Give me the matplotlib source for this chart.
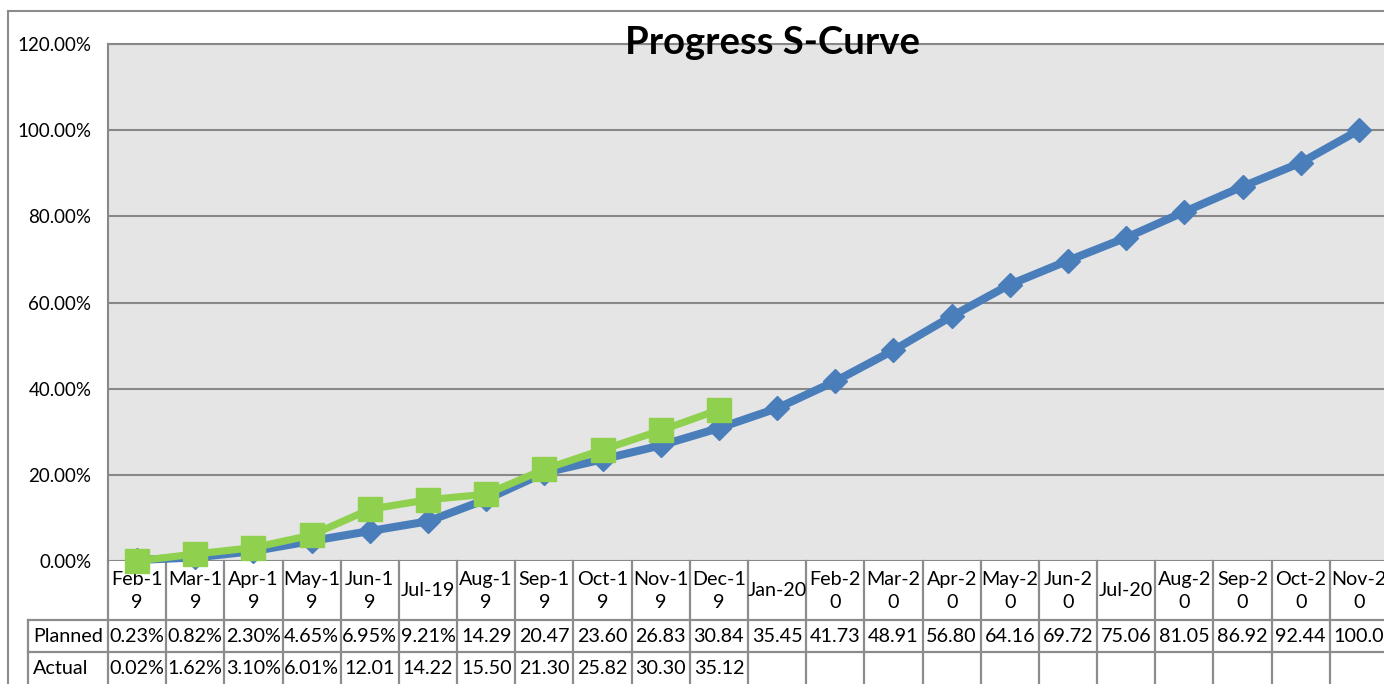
import matplotlib
matplotlib.use("Agg")
import matplotlib.pyplot as plt
from matplotlib.lines import Line2D
from matplotlib.ticker import FuncFormatter

plt.rcParams['font.family'] = ['Lato', 'DejaVu Sans']

# ---------------- data ----------------
header_labels = ["Feb-1\n9", "Mar-1\n9", "Apr-1\n9", "May-1\n9", "Jun-1\n9", "Jul-19",
                 "Aug-1\n9", "Sep-1\n9", "Oct-1\n9", "Nov-1\n9", "Dec-1\n9", "Jan-20",
                 "Feb-2\n0", "Mar-2\n0", "Apr-2\n0", "May-2\n0", "Jun-2\n0", "Jul-20",
                 "Aug-2\n0", "Sep-2\n0", "Oct-2\n0", "Nov-2\n0"]
planned = [0.23, 0.82, 2.30, 4.65, 6.95, 9.21, 14.29, 20.47, 23.60, 26.83, 30.84,
           35.45, 41.73, 48.91, 56.80, 64.16, 69.72, 75.06, 81.05, 86.92, 92.44, 100.0]
actual = [0.02, 1.62, 3.10, 6.01, 12.01, 14.22, 15.50, 21.30, 25.82, 30.30, 35.12]
planned_labels = ["0.23%", "0.82%", "2.30%", "4.65%", "6.95%", "9.21%", "14.29", "20.47",
                  "23.60", "26.83", "30.84", "35.45", "41.73", "48.91", "56.80", "64.16",
                  "69.72", "75.06", "81.05", "86.92", "92.44", "100.0"]
actual_labels = ["0.02%", "1.62%", "3.10%", "6.01%", "12.01", "14.22", "15.50", "21.30",
                 "25.82", "30.30", "35.12"]
row_names = ["Planned", "Actual"]
y_ticks = [0, 20, 40, 60, 80, 100, 120]
title = "Progress S-Curve"

# ---------------- figure ----------------
W, H = 1384, 684
fig = plt.figure(figsize=(W / 100, H / 100), dpi=100)

ax_l, ax_r, ax_t, ax_b = 108, 1388, 44, 561
ax = fig.add_axes([ax_l / W, (H - ax_b) / H, (ax_r - ax_l) / W, (ax_b - ax_t) / H])
ax.set_facecolor("#E5E5E5")
n = len(planned)
ax.set_xlim(0, n)
ax.set_ylim(0, 120)

grid_c = "#888888"
for yv in y_ticks:
    ax.axhline(yv, color=grid_c, lw=1.5, zorder=1)
for s in ["right", "bottom"]:
    ax.spines[s].set_visible(False)
for s in ["left", "top"]:
    ax.spines[s].set_color(grid_c)
    ax.spines[s].set_linewidth(1.5)

ax.set_yticks(y_ticks)
ax.yaxis.set_major_formatter(FuncFormatter(lambda v, p: f"{v:.2f}%"))
ax.tick_params(axis="y", length=0, pad=12, labelsize=13.5, colors="black")
ax.set_xticks([])

xs_p = [i + 0.5 for i in range(len(planned))]
xs_a = [i + 0.5 for i in range(len(actual))]
ax.plot(xs_p, planned, color="#4A7EBB", lw=5.8, marker="D", ms=12.5, mew=1,
        mec="#4A7EBB", zorder=3, clip_on=False, solid_joinstyle="miter")
ax.plot(xs_a, actual, color="#8FD14F", lw=5.2, marker="s", ms=17, mew=1,
        mec="#8FD14F", zorder=4, clip_on=False)

# ---------------- data table ----------------
tr = ax.get_xaxis_transform()
ph = ax_b - ax_t
def ay(px):
    return -(px - ax_b) / ph

tc = "#8C8C8C"
tlw = 1.6
row1, row2, row3 = 620, 652, 700
lab_left_px = 28
lab_left = (lab_left_px - ax_l) / (ax_r - ax_l)

for i in range(n + 1):
    ax.add_line(Line2D([i, i], [0, ay(row3)], transform=tr, color=tc, lw=tlw, clip_on=False))
for yy in (row1, row2):
    ax.add_line(Line2D([lab_left, 1], [ay(yy), ay(yy)], transform=ax.transAxes,
                       color=tc, lw=tlw, clip_on=False))
ax.add_line(Line2D([lab_left, lab_left], [ay(row1), ay(row3)], transform=ax.transAxes,
                   color=tc, lw=tlw, clip_on=False))

fs = 14.2
for i, lab in enumerate(header_labels):
    ax.text(i + 0.5, ay(591), lab, transform=tr, ha="center", va="center",
            fontsize=fs, linespacing=1.45, clip_on=False)
for i, lab in enumerate(planned_labels):
    ax.text(i + 0.5, ay(637), lab, transform=tr, ha="center", va="center",
            fontsize=fs, clip_on=False)
for i, lab in enumerate(actual_labels):
    ax.text(i + 0.5, ay(669), lab, transform=tr, ha="center", va="center",
            fontsize=fs, clip_on=False)
lab_x = (33 - ax_l) / (ax_r - ax_l)
ax.text(lab_x, ay(637), row_names[0], transform=ax.transAxes, ha="left", va="center",
        fontsize=fs, clip_on=False)
ax.text(lab_x, ay(669), row_names[1], transform=ax.transAxes, ha="left", va="center",
        fontsize=fs, clip_on=False)

# ---------------- title & outer border ----------------
fig.text(773 / W, 1 - 43 / H, title, ha="center", va="center", fontsize=27.5,
         fontweight="bold")
bx, by = 8 / W, 1 - 11 / H
fig.add_artist(Line2D([bx, bx], [0, by], transform=fig.transFigure, color=tc, lw=1.5))
fig.add_artist(Line2D([bx, 1], [by, by], transform=fig.transFigure, color=tc, lw=1.5))

fig.savefig("out.png", dpi=100)
